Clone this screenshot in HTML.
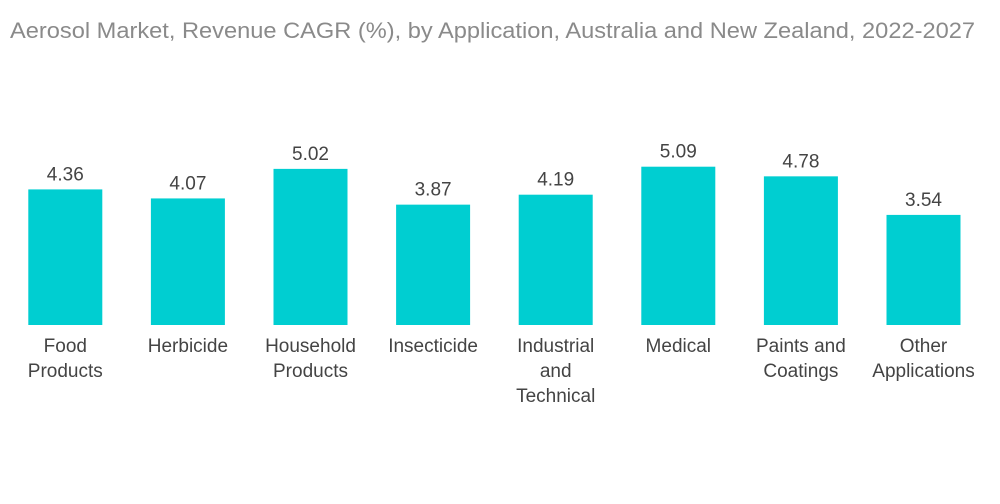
<!DOCTYPE html>
<html><head><meta charset="utf-8"><style>
body{margin:0;background:#fff;}
svg{display:block;font-family:"Liberation Sans",sans-serif;}
</style></head><body>
<svg id="chart" width="1000" height="504">
<text x="10" y="38" font-size="22" fill="#8a8a8a" textLength="965" lengthAdjust="spacingAndGlyphs">Aerosol Market, Revenue CAGR (%), by Application, Australia and New Zealand, 2022-2027</text>
<g id="bars"></g>
</svg>
<script>
const categories=[["Food","Products"],["Herbicide"],["Household","Products"],["Insecticide"],["Industrial","and","Technical"],["Medical"],["Paints and","Coatings"],["Other","Applications"]];
const values=[4.36,4.07,5.02,3.87,4.19,5.09,4.78,3.54];
const valueLabels=["4.36","4.07","5.02","3.87","4.19","5.09","4.78","3.54"];
const baseY=325, pxPerUnit=31.1, left=4, band=122.6, barW=74;
const y=v=>baseY-v*pxPerUnit;
const xc=i=>left+band*(i+0.5);
const g=document.getElementById('bars');
const NS="http://www.w3.org/2000/svg";
values.forEach((v,i)=>{
  const r=document.createElementNS(NS,'rect');
  r.setAttribute('x',xc(i)-barW/2);r.setAttribute('y',y(v));
  r.setAttribute('width',barW);r.setAttribute('height',baseY-y(v));
  r.setAttribute('fill','#00ced1');
  
  
  g.appendChild(r);
  const t=document.createElementNS(NS,'text');
  t.setAttribute('x',xc(i));t.setAttribute('y',y(v)-9);
  t.setAttribute('text-anchor','middle');t.setAttribute('font-size','19');t.setAttribute('fill','#444');
  t.textContent=valueLabels[i];
  
  
  g.appendChild(t);
  categories[i].forEach((line,j)=>{
    const c=document.createElementNS(NS,'text');
    c.setAttribute('x',xc(i));c.setAttribute('y',352+j*25);
    c.setAttribute('text-anchor','middle');c.setAttribute('font-size','19');c.setAttribute('fill','#444');
    c.textContent=line;
    
    
    g.appendChild(c);
  });
});
</script>
</body></html>
